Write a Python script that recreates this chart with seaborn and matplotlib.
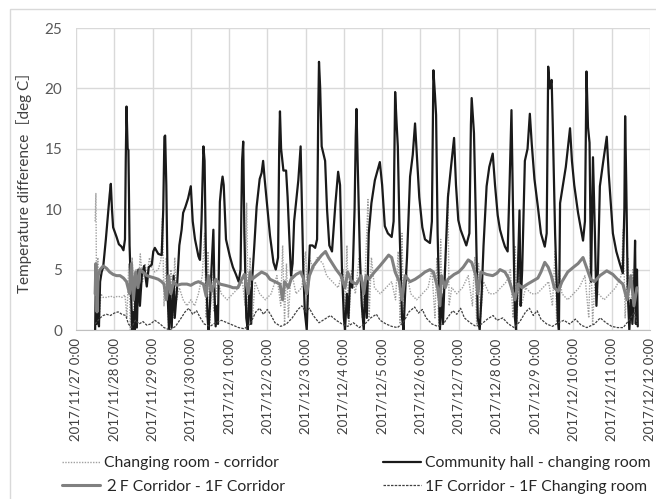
import matplotlib
matplotlib.use("Agg")
import matplotlib.pyplot as plt
from matplotlib.lines import Line2D
from matplotlib.patches import Rectangle
import seaborn as sns
import pandas as pd

# x values are days since 2017/11/27 0:00
tick_labels = [
    "2017/11/27 0:00", "2017/11/28 0:00", "2017/11/29 0:00", "2017/11/30 0:00",
    "2017/12/1 0:00", "2017/12/2 0:00", "2017/12/3 0:00", "2017/12/4 0:00",
    "2017/12/5 0:00", "2017/12/6 0:00", "2017/12/7 0:00", "2017/12/8 0:00",
    "2017/12/9 0:00", "2017/12/10 0:00", "2017/12/11 0:00", "2017/12/12 0:00",
]

# Community hall - changing room
hall_t = [
    0.50, 0.52, 0.54, 0.57, 0.60, 0.63, 0.67, 0.71, 0.78, 0.84, 0.88, 0.91, 0.94, 0.97,
    1.06, 1.12, 1.19, 1.24, 1.28, 1.30, 1.32, 1.35, 1.37, 1.40, 1.44, 1.47, 1.49, 1.53,
    1.56, 1.59, 1.63, 1.67, 1.72, 1.78, 1.85, 1.90, 1.98, 2.02, 2.06, 2.15, 2.24, 2.28,
    2.31, 2.33, 2.36, 2.40, 2.43, 2.46, 2.50, 2.55, 2.58, 2.63, 2.70, 2.76, 2.80, 2.86,
    2.93, 3.00, 3.05, 3.11, 3.20, 3.24, 3.28, 3.33, 3.36, 3.40, 3.44, 3.46, 3.50, 3.54,
    3.59, 3.62, 3.65, 3.69, 3.71, 3.76, 3.80, 3.83, 3.86, 3.92, 4.02, 4.10, 4.18, 4.25,
    4.30, 4.34, 4.37, 4.40, 4.45, 4.49, 4.53, 4.57, 4.60, 4.66, 4.72, 4.80, 4.85, 4.89,
    4.93, 4.98, 5.07, 5.16, 5.22, 5.28, 5.31, 5.33, 5.36, 5.42, 5.49, 5.53, 5.57, 5.62,
    5.66, 5.70, 5.81, 5.87, 5.90, 5.94, 5.98, 6.03, 6.07, 6.11, 6.18, 6.25, 6.30, 6.33,
    6.35, 6.38, 6.42, 6.51, 6.56, 6.62, 6.69, 6.78, 6.85, 6.90, 6.95, 7.00, 7.03, 7.08,
    7.12, 7.16, 7.22, 7.28, 7.31, 7.33, 7.36, 7.42, 7.47, 7.52, 7.56, 7.60, 7.65, 7.72,
    7.81, 7.94, 8.00, 8.07, 8.15, 8.25, 8.30, 8.34, 8.38, 8.41, 8.45, 8.52, 8.56, 8.60,
    8.65, 8.73, 8.80, 8.86, 8.90, 8.97, 9.05, 9.12, 9.25, 9.30, 9.34, 9.38, 9.41, 9.45,
    9.51, 9.55, 9.59, 9.63, 9.72, 9.80, 9.88, 9.93, 9.99, 10.05, 10.12, 10.20, 10.28, 10.32,
    10.34, 10.40, 10.45, 10.50, 10.55, 10.60, 10.65, 10.73, 10.80, 10.89, 10.95, 11.02, 11.08, 11.15,
    11.21, 11.28, 11.33, 11.38, 11.42, 11.47, 11.50, 11.54, 11.59, 11.62, 11.66, 11.73, 11.80, 11.86,
    11.91, 11.98, 12.07, 12.15, 12.25, 12.30, 12.34, 12.38, 12.43, 12.46, 12.52, 12.59, 12.62, 12.65,
    12.70, 12.80, 12.91, 12.96, 13.02, 13.12, 13.25, 13.30, 13.34, 13.38, 13.42, 13.46, 13.51, 13.56,
    13.60, 13.64, 13.69, 13.78, 13.87, 13.92, 14.03, 14.12, 14.21, 14.29, 14.33, 14.35, 14.38, 14.42,
    14.46, 14.50, 14.54, 14.58, 14.61, 14.63, 14.66, 14.68,
]
hall_v = [
    0.0, 4.5, 0.5, 3.0, 0.3, 4.0, 4.8, 5.2, 7.5, 9.7, 11.2, 12.1, 10.0, 8.5,
    7.7, 7.1, 6.9, 6.6, 7.5, 14.0, 18.5, 15.0, 14.9, 7.0, 3.0, 0.0, 1.5, 0.0,
    4.0, 0.2, 5.0, 2.0, 4.5, 5.3, 3.6, 5.2, 5.4, 6.5, 6.8, 6.3, 6.2, 10.0,
    16.0, 16.1, 12.0, 2.5, 0.0, 3.0, 0.2, 4.5, 1.0, 3.0, 7.0, 8.3, 9.7, 10.2,
    10.9, 11.9, 9.0, 7.5, 6.1, 5.8, 9.0, 15.2, 14.0, 5.0, 1.0, 0.0, 2.0, 5.0,
    8.3, 3.0, 0.3, 2.0, 0.5, 10.6, 12.0, 12.7, 12.0, 7.5, 6.1, 5.2, 4.6, 4.0,
    5.0, 14.0, 15.6, 8.0, 1.0, 0.0, 3.5, 0.5, 4.0, 7.0, 10.2, 12.5, 13.0, 14.0,
    12.5, 10.8, 7.8, 5.6, 5.0, 6.0, 15.0, 18.1, 15.0, 13.2, 13.2, 11.0, 8.0, 4.5,
    5.5, 9.0, 12.4, 15.2, 11.0, 5.0, 1.5, 0.0, 4.0, 7.0, 7.0, 6.8, 7.5, 18.0,
    22.2, 20.1, 15.2, 14.0, 10.0, 7.0, 6.5, 10.5, 13.1, 12.0, 5.0, 1.0, 0.0, 3.0,
    1.0, 4.0, 3.5, 10.0, 16.0, 18.3, 14.0, 6.0, 2.0, 0.0, 4.0, 1.0, 8.0, 10.5,
    12.4, 13.9, 12.0, 8.6, 8.0, 7.7, 9.0, 19.7, 17.0, 15.2, 9.0, 1.0, 0.0, 3.0,
    6.0, 12.7, 14.5, 17.1, 14.9, 11.0, 8.5, 7.5, 7.2, 9.0, 21.5, 19.5, 17.8, 8.0,
    0.0, 3.0, 0.5, 4.0, 11.0, 13.5, 15.9, 12.0, 9.1, 8.3, 7.7, 7.0, 8.0, 17.0,
    19.2, 16.3, 9.0, 1.0, 0.0, 3.0, 7.0, 11.9, 13.5, 14.6, 12.0, 9.5, 8.3, 7.5,
    6.9, 6.5, 12.0, 18.2, 10.0, 1.0, 0.0, 4.0, 9.9, 2.0, 5.0, 14.0, 15.0, 17.9,
    15.4, 12.5, 10.2, 8.0, 6.9, 8.0, 21.8, 20.0, 20.7, 16.8, 8.0, 1.0, 0.0, 10.5,
    11.5, 13.5, 16.7, 14.0, 12.0, 9.7, 7.4, 9.0, 21.4, 16.8, 15.5, 4.0, 14.3, 8.0,
    2.0, 5.0, 11.9, 14.0, 16.0, 13.0, 8.0, 6.5, 5.5, 4.7, 10.0, 17.7, 12.0, 3.0,
    0.0, 2.5, 0.5, 3.0, 7.4, 0.5, 5.0, 0.3,
]

# 2F Corridor - 1F Corridor
upper_t = [
    0.50, 0.52, 0.55, 0.58, 0.63, 0.71, 0.80, 0.88, 0.97, 1.06, 1.15, 1.24, 1.32, 1.40,
    1.45, 1.50, 1.56, 1.62, 1.67, 1.75, 1.85, 1.95, 2.06, 2.15, 2.24, 2.30, 2.36, 2.42,
    2.48, 2.55, 2.63, 2.76, 2.90, 3.00, 3.11, 3.20, 3.33, 3.40, 3.46, 3.55, 3.65, 3.76,
    3.90, 4.02, 4.10, 4.23, 4.30, 4.40, 4.50, 4.55, 4.60, 4.72, 4.85, 4.98, 5.07, 5.20,
    5.33, 5.40, 5.45, 5.55, 5.62, 5.75, 5.87, 5.94, 6.03, 6.10, 6.20, 6.32, 6.42, 6.52,
    6.60, 6.70, 6.80, 6.92, 7.03, 7.10, 7.20, 7.33, 7.45, 7.52, 7.58, 7.65, 7.80, 7.94,
    8.07, 8.17, 8.25, 8.34, 8.45, 8.52, 8.60, 8.73, 8.86, 9.00, 9.12, 9.25, 9.34, 9.45,
    9.51, 9.55, 9.65, 9.72, 9.88, 10.00, 10.12, 10.25, 10.34, 10.45, 10.50, 10.58, 10.73, 10.89,
    11.00, 11.08, 11.21, 11.30, 11.38, 11.47, 11.55, 11.66, 11.80, 11.91, 12.07, 12.15, 12.25, 12.34,
    12.42, 12.50, 12.60, 12.70, 12.85, 13.00, 13.12, 13.25, 13.34, 13.45, 13.55, 13.69, 13.87, 14.03,
    14.15, 14.29, 14.40, 14.50, 14.58, 14.66,
]
upper_v = [
    3.0, 5.5, 1.5, 4.5, 5.0, 5.3, 5.1, 4.8, 4.6, 4.5, 4.5, 4.3, 4.0, 3.0,
    5.5, 2.5, 4.8, 3.5, 5.0, 4.8, 4.5, 4.4, 4.3, 4.2, 4.0, 3.8, 2.5, 4.5,
    3.0, 4.0, 3.7, 3.8, 3.8, 3.7, 3.9, 4.0, 3.8, 2.8, 4.5, 3.2, 4.2, 3.8,
    3.7, 3.6, 3.5, 3.5, 4.0, 4.6, 3.0, 4.8, 4.2, 4.5, 4.8, 4.6, 4.2, 4.0,
    3.8, 2.5, 4.0, 3.5, 4.2, 4.6, 4.8, 4.3, 3.0, 4.5, 5.3, 5.8, 6.2, 6.5,
    6.0, 5.5, 5.0, 4.5, 3.5, 4.8, 4.0, 3.8, 4.5, 3.0, 4.5, 4.2, 4.8, 5.3,
    5.8, 6.2, 6.0, 4.8, 4.0, 2.5, 4.5, 4.0, 4.2, 4.5, 4.8, 5.0, 4.8, 3.5,
    2.0, 4.5, 3.5, 4.2, 4.6, 4.8, 5.2, 5.8, 5.6, 4.5, 3.0, 4.8, 4.6, 4.5,
    4.7, 5.0, 4.8, 4.3, 3.5, 2.5, 3.8, 3.5, 3.8, 4.0, 4.3, 4.8, 5.6, 5.2,
    4.5, 3.5, 3.2, 4.0, 4.8, 5.2, 5.5, 6.0, 5.2, 4.2, 4.0, 4.5, 4.9, 4.6,
    4.2, 3.8, 2.5, 4.5, 2.0, 3.5,
]

# 1F Corridor - 1F Changing room
lower_t = [
    0.50, 0.63, 0.71, 0.80, 0.90, 1.00, 1.10, 1.20, 1.30, 1.37, 1.45, 1.55, 1.65, 1.75,
    1.85, 1.95, 2.06, 2.20, 2.30, 2.45, 2.60, 2.75, 2.85, 2.95, 3.05, 3.15, 3.25, 3.35,
    3.50, 3.65, 3.80, 3.95, 4.10, 4.25, 4.40, 4.55, 4.70, 4.80, 4.90, 5.00, 5.10, 5.20,
    5.35, 5.50, 5.65, 5.80, 5.90, 6.00, 6.10, 6.20, 6.35, 6.50, 6.65, 6.80, 6.95, 7.10,
    7.25, 7.40, 7.55, 7.70, 7.85, 7.95, 8.10, 8.25, 8.40, 8.55, 8.70, 8.85, 8.95, 9.05,
    9.15, 9.30, 9.45, 9.60, 9.75, 9.85, 9.95, 10.05, 10.15, 10.30, 10.45, 10.60, 10.75, 10.90,
    11.00, 11.15, 11.30, 11.45, 11.60, 11.75, 11.85, 11.95, 12.05, 12.15, 12.30, 12.45, 12.60, 12.75,
    12.90, 13.05, 13.20, 13.35, 13.55, 13.70, 13.85, 14.00, 14.15, 14.30, 14.45, 14.60, 14.66,
]
lower_v = [
    0.5, 1.0, 1.2, 1.3, 1.2, 1.4, 1.5, 1.3, 1.2, 0.5, 0.2, 0.8, 0.5, 0.7,
    0.4, 0.5, 0.8, 0.5, 0.2, 0.0, 0.3, 1.0, 1.5, 1.8, 1.3, 1.6, 1.0, 0.5,
    0.3, 0.6, 0.8, 0.6, 0.4, 0.2, 0.1, 0.5, 1.5, 1.8, 1.3, 1.7, 1.2, 0.6,
    0.3, 0.5, 1.0, 1.7, 2.0, 1.5, 1.8, 1.2, 0.6, 0.9, 1.2, 0.8, 0.5, 0.3,
    0.6, 0.2, 0.5, 1.0, 1.3, 0.8, 0.5, 0.3, 0.2, 0.6, 1.5, 1.9, 1.4, 1.7,
    1.0, 0.5, 0.3, 0.5, 1.2, 1.6, 1.3, 1.8, 1.0, 0.6, 0.3, 0.5, 0.9, 1.2,
    0.8, 1.0, 0.5, 0.2, 0.7, 1.5, 1.8, 1.2, 1.6, 0.9, 0.5, 0.3, 0.6, 0.8,
    0.5, 0.9, 0.4, 0.2, 0.5, 1.0, 0.6, 0.3, 0.2, 0.2, 0.8, 1.5, 0.5,
]

# Changing room - corridor
room_t = [
    0.50, 0.52, 0.54, 0.57, 0.60, 0.65, 0.71, 0.80, 0.90, 1.00, 1.10, 1.20, 1.28, 1.33,
    1.38, 1.42, 1.47, 1.52, 1.57, 1.62, 1.68, 1.74, 1.80, 1.86, 1.92, 1.98, 2.06, 2.15,
    2.22, 2.26, 2.30, 2.36, 2.42, 2.48, 2.53, 2.58, 2.63, 2.70, 2.80, 2.90, 3.00, 3.10,
    3.20, 3.30, 3.36, 3.40, 3.45, 3.50, 3.55, 3.60, 3.70, 3.80, 3.95, 4.10, 4.25, 4.35,
    4.42, 4.46, 4.50, 4.55, 4.60, 4.68, 4.80, 4.95, 5.10, 5.25, 5.35, 5.40, 5.45, 5.50,
    5.55, 5.62, 5.75, 5.90, 6.00, 6.05, 6.10, 6.20, 6.30, 6.45, 6.55, 6.70, 6.85, 6.98,
    7.03, 7.08, 7.13, 7.20, 7.30, 7.40, 7.48, 7.55, 7.63, 7.66, 7.72, 7.80, 7.95, 8.10,
    8.25, 8.35, 8.42, 8.47, 8.52, 8.56, 8.62, 8.75, 8.90, 9.05, 9.20, 9.30, 9.38, 9.43,
    9.48, 9.53, 9.57, 9.65, 9.72, 9.75, 9.82, 9.95, 10.10, 10.25, 10.36, 10.42, 10.47, 10.52,
    10.57, 10.65, 10.80, 10.95, 11.10, 11.25, 11.35, 11.42, 11.48, 11.52, 11.58, 11.64, 11.75, 11.90,
    12.05, 12.20, 12.35, 12.45, 12.52, 12.56, 12.62, 12.70, 12.85, 13.00, 13.15, 13.30, 13.40, 13.45,
    13.50, 13.56, 13.65, 13.80, 13.95, 14.10, 14.25, 14.30, 14.35, 14.42, 14.48, 14.55, 14.62, 14.66,
]
room_v = [
    9.0, 11.3, 2.0, 6.0, 0.5, 3.0, 2.7, 2.7, 2.8, 2.7, 2.8, 2.7, 2.9, 1.0,
    5.5, 0.0, 6.0, 0.5, 5.0, 3.0, 6.3, 4.0, 5.5, 4.5, 6.0, 5.2, 4.8, 5.0,
    5.8, 9.3, 2.0, 6.0, 0.0, 5.0, 1.0, 6.0, 2.5, 3.5, 2.5, 2.0, 2.5, 2.0,
    3.0, 4.5, 8.0, 1.0, 6.5, 0.5, 5.0, 1.5, 4.0, 3.0, 2.5, 3.0, 3.5, 4.0,
    2.0, 10.5, 1.0, 6.0, 0.5, 4.0, 3.0, 2.5, 3.0, 4.5, 2.0, 7.0, 0.5, 5.5,
    1.0, 5.0, 3.0, 3.5, 6.5, 2.0, 6.0, 5.0, 6.0, 5.5, 4.5, 4.0, 3.5, 5.0,
    1.0, 7.0, 0.5, 5.0, 3.0, 6.0, 1.0, 4.0, 10.8, 1.0, 6.0, 3.5, 3.0, 3.5,
    4.0, 2.5, 6.5, 0.5, 8.0, 1.0, 5.0, 3.0, 2.5, 3.0, 3.5, 5.0, 1.0, 6.0,
    0.5, 7.5, 1.0, 4.5, 11.3, 2.0, 3.5, 3.0, 3.5, 4.5, 2.0, 6.0, 0.5, 5.5,
    1.0, 4.0, 3.0, 3.0, 3.5, 4.0, 5.0, 1.0, 7.0, 0.5, 5.5, 2.0, 3.5, 3.0,
    3.0, 3.5, 4.0, 2.0, 6.5, 0.5, 5.0, 3.0, 2.5, 3.0, 3.5, 4.5, 1.0, 7.0,
    0.5, 4.0, 3.0, 2.5, 3.0, 3.5, 4.5, 8.3, 1.0, 6.0, 0.5, 5.0, 1.0, 3.0,
]

labels = [
    "Changing room - corridor",
    "Community hall - changing room",
    "\uff12F Corridor - 1F Corridor",
    "1F Corridor - 1F Changing room",
]

sns.set_style("white")
plt.rcParams["font.family"] = ["Lato", "Noto Sans CJK JP", "DejaVu Sans"]

fig = plt.figure(figsize=(6.56, 4.99), dpi=100)
ax = fig.add_axes([76 / 656, 1 - 330 / 499, (650 - 76) / 656, (330 - 28) / 499])

# outer chart frame
fig.patches.append(Rectangle((10 / 656, -0.1), 1.2, (499 - 9) / 499 + 0.1,
                             transform=fig.transFigure, fill=False,
                             edgecolor="#d9d9d9", linewidth=1.0, zorder=0))

styles = {
    labels[0]: dict(color="#a0a0a0", linewidth=1.0, linestyle=(0, (1, 1))),
    labels[1]: dict(color="#1a1a1a", linewidth=1.6, linestyle="-"),
    labels[2]: dict(color="#808080", linewidth=2.2, linestyle="-"),
    labels[3]: dict(color="#404040", linewidth=0.9, linestyle=(0, (2, 1))),
}

series = [
    (labels[0], room_t, room_v),
    (labels[1], hall_t, hall_v),
    (labels[2], upper_t, upper_v),
    (labels[3], lower_t, lower_v),
]
for name, t, v in series:
    df = pd.DataFrame({"day": t, "diff": v})
    sns.lineplot(data=df, x="day", y="diff", ax=ax, legend=False,
                 estimator=None, sort=False, **styles[name])

ax.set_xlim(0, 15)
ax.set_ylim(0, 25)
ax.set_xticks(range(len(tick_labels)))
ax.set_xticklabels(tick_labels, rotation=90, fontsize=9.5, color="#404040")
ax.set_yticks([0, 5, 10, 15, 20, 25])
ax.tick_params(axis="y", labelsize=11, colors="#595959", length=0, pad=10)
ax.tick_params(axis="x", length=0, pad=6)
ax.grid(True, color="#d9d9d9", linewidth=1.0)
ax.set_axisbelow(True)
for s in ["top", "right", "left"]:
    ax.spines[s].set_visible(False)
ax.spines["bottom"].set_color("#bfbfbf")
ax.set_xlabel("")
ax.set_ylabel("Temperature difference\uff3bdeg C\uff3d", fontsize=11, color="#404040", labelpad=9)

def handle(name):
    return Line2D([], [], **styles[name])

legend_kw = dict(loc="center left", frameon=False, fontsize=11.3, handlelength=2.4,
                 handletextpad=0.25, labelspacing=0.62, borderpad=0, borderaxespad=0,
                 labelcolor="#262626")
fig.legend([handle(labels[0]), handle(labels[2])], [labels[0], labels[2]],
           bbox_to_anchor=(62 / 656, 1 - 475 / 499), **legend_kw)
fig.legend([handle(labels[1]), handle(labels[3])], [labels[1], labels[3]],
           bbox_to_anchor=(383 / 656, 1 - 475 / 499), **legend_kw)

fig.savefig("out.png", dpi=100)
